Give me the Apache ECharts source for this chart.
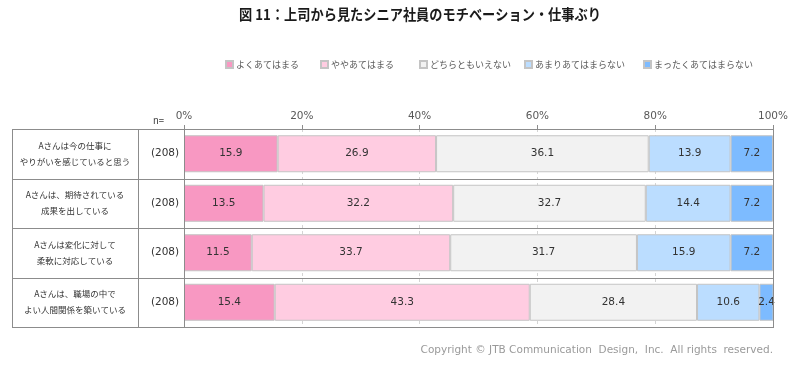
<!DOCTYPE html>
<html><head><meta charset="utf-8">
<script src="https://cdn.jsdelivr.net/npm/echarts@6/dist/echarts.min.js"></script>
<style>html,body{margin:0;padding:0;background:#fff}#c{width:800px;height:368px}</style>
</head><body><div id="c"></div>
<script>
const titleText = '図 11：上司から見たシニア社員のモチベーション・仕事ぶり';
const categories = [
  'Aさんは今の仕事に\nやりがいを感じていると思う',
  'Aさんは、期待されている\n成果を出している',
  'Aさんは変化に対して\n柔軟に対応している',
  'Aさんは、職場の中で\nよい人間関係を築いている'
];
const nLabels = ['(208)', '(208)', '(208)', '(208)'];
const seriesNames = ['よくあてはまる', 'ややあてはまる', 'どちらともいえない', 'あまりあてはまらない', 'まったくあてはまらない'];
const yokuAtehamaru = [15.9, 13.5, 11.5, 15.4];
const yayaAtehamaru = [26.9, 32.2, 33.7, 43.3];
const dochiramo = [36.1, 32.7, 31.7, 28.4];
const amari = [13.9, 14.4, 15.9, 10.6];
const mattaku = [7.2, 7.2, 7.2, 2.4];
const seriesValues = [yokuAtehamaru, yayaAtehamaru, dochiramo, amari, mattaku];
const copyright = 'Copyright © JTB Communication  Design,  Inc.  All rights  reserved.';

const colors = ['#F898C2', '#FFCCE1', '#F2F2F2', '#BBDDFF', '#7DBBFF'];
const legendLeft = [225, 320, 419, 524, 643];

const G = {left: 184, right: 27, top: 129, bottom: 41};
const W = 800, H = 368;
const JP = '"Noto Sans CJK JP", sans-serif';
const NUM = '"DejaVu Sans", sans-serif';

const chart = echarts.init(document.getElementById('c'), null, {renderer: 'canvas'});

const plotH = H - G.top - G.bottom;
const step = plotH / categories.length;
const lineColor = '#8c8c8c';
const graphics = [];
[12, 138].forEach(x => graphics.push({type: 'line', shape: {x1: x + 0.5, y1: G.top, x2: x + 0.5, y2: H - G.bottom}, style: {stroke: lineColor, lineWidth: 1}, z: 10}));
graphics.push({type: 'line', shape: {x1: G.left + 0.5, y1: G.top, x2: G.left + 0.5, y2: H - G.bottom}, style: {stroke: lineColor, lineWidth: 1}, z: 10});
graphics.push({type: 'line', shape: {x1: W - G.right + 0.5, y1: G.top, x2: W - G.right + 0.5, y2: H - G.bottom}, style: {stroke: lineColor, lineWidth: 1}, z: 10});
for (let k = 0; k <= categories.length; k++) {
  const y = Math.round(G.top + k * step) + 0.5;
  graphics.push({type: 'line', shape: {x1: 12, y1: y, x2: W - G.right + 1, y2: y}, style: {stroke: lineColor, lineWidth: 1}, z: 10});
}
graphics.push({type: 'text', x: 420, y: 14, scaleX: 0.88, originX: 0, originY: 0,
  style: {x: 0, y: 0, text: titleText, font: 'bold 15px ' + JP, fill: '#1a1a1a', align: 'center', verticalAlign: 'middle'}});
graphics.push({type: 'text', left: 153, top: 116, style: {text: 'n=', font: '9.5px ' + JP, fill: '#404040'}});
graphics.push({type: 'text', right: 27, top: 345, style: {text: copyright, font: '10.5px ' + NUM, fill: '#9a9a9a'}});

const option = {
  animation: false,
  legend: seriesNames.map((n, i) => ({
    data: [n], left: legendLeft[i], top: 60, padding: 0, itemWidth: 7, itemHeight: 7, itemGap: 0,
    icon: 'rect', textStyle: {fontFamily: JP, fontSize: 9, color: '#595959', padding: [0, 0, 0, -2]},
    selectedMode: false
  })),
  grid: {left: G.left, right: G.right, top: G.top, bottom: G.bottom},
  xAxis: {
    type: 'value', position: 'top', min: 0, max: 100, interval: 20,
    axisLine: {show: true, lineStyle: {color: lineColor}},
    axisTick: {show: true, length: 4, lineStyle: {color: lineColor}},
    axisLabel: {formatter: '{value}%', margin: 7, fontFamily: NUM, fontSize: 10.5, color: '#595959'},
    splitLine: {show: true, lineStyle: {color: '#d4d4d4', type: [3, 3]}}
  },
  yAxis: [{
    type: 'category', data: categories, inverse: true,
    axisLine: {show: false}, axisTick: {show: false},
    axisLabel: {align: 'center', margin: G.left - 75, fontFamily: JP, fontSize: 8.5, lineHeight: 16, color: '#333'}
  }, {
    type: 'category', data: nLabels, inverse: true, position: 'left',
    axisLine: {show: false}, axisTick: {show: false},
    axisLabel: {align: 'center', margin: 19, fontFamily: NUM, fontSize: 10.5, color: '#333'}
  }],
  series: seriesNames.map((n, i) => ({
    name: n, type: 'bar', stack: 'total', barWidth: 37, yAxisIndex: 0,
    data: seriesValues[i],
    itemStyle: {color: colors[i], borderColor: '#c4c4c4', borderWidth: 1},
    label: {show: true, position: 'inside', formatter: p => p.value.toFixed(1),
      fontFamily: NUM, fontSize: 10.5, color: '#333'}
  })),
  graphic: graphics
};
chart.setOption(option);
</script></body></html>
